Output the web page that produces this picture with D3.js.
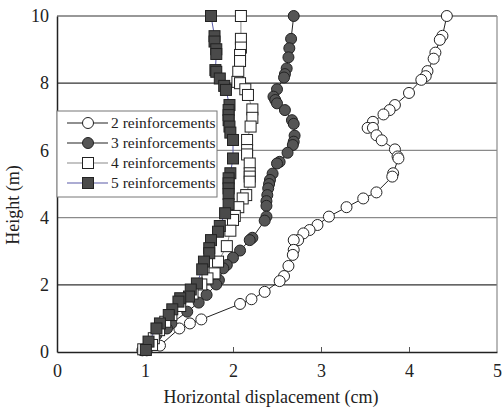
<!DOCTYPE html>
<html>
<head>
<meta charset="utf-8" />
<script src="https://d3js.org/d3.v7.min.js"></script>
<style>
  body { margin: 0; background: #fff; }
  text { font-family: "Liberation Serif", "Times New Roman", serif; fill: #222; }
</style>
</head>
<body>
<svg id="chart" width="504" height="410"></svg>
<script>
// --- data: [horizontal displacement (cm), height (m)] ---
var reinf2 = [
  [4.43, 10.0], [4.38, 9.41], [4.35, 9.29], [4.30, 8.91], [4.28, 8.73], [4.21, 8.36],
  [4.19, 8.21], [4.14, 8.10], [4.00, 7.71], [3.84, 7.35], [3.78, 7.20], [3.71, 7.07],
  [3.59, 6.85], [3.53, 6.67], [3.59, 6.67], [3.63, 6.45], [3.69, 6.30], [3.84, 6.03],
  [3.87, 5.82], [3.88, 5.76], [3.82, 5.32], [3.81, 5.22], [3.63, 4.75], [3.48, 4.57],
  [3.29, 4.31], [3.09, 4.03], [2.96, 3.78], [2.87, 3.63], [2.80, 3.53], [2.74, 3.33],
  [2.69, 3.33], [2.69, 3.04], [2.68, 2.89], [2.63, 2.56], [2.58, 2.26], [2.53, 2.11],
  [2.36, 1.79], [2.21, 1.57], [2.08, 1.43], [1.64, 0.97], [1.51, 0.85], [1.39, 0.70],
  [1.17, 0.19], [1.02, 0.05]
];
var reinf3 = [
  [2.69, 10.0], [2.66, 9.32], [2.64, 9.04], [2.63, 8.77], [2.61, 8.44], [2.59, 8.27],
  [2.58, 8.17], [2.50, 7.82], [2.46, 7.60], [2.48, 7.50], [2.50, 7.40], [2.59, 7.20],
  [2.67, 6.90], [2.69, 6.79], [2.70, 6.44], [2.69, 6.26], [2.68, 6.16], [2.62, 5.93],
  [2.53, 5.66], [2.50, 5.61], [2.45, 5.31], [2.42, 5.12], [2.41, 5.00], [2.40, 4.87],
  [2.39, 4.67], [2.38, 4.49], [2.38, 4.35], [2.38, 4.03], [2.36, 3.91], [2.22, 3.40],
  [2.19, 3.33], [2.08, 3.02], [2.00, 2.81], [1.93, 2.59], [1.89, 2.49], [1.84, 2.14],
  [1.81, 2.01], [1.70, 1.70], [1.61, 1.47], [1.48, 1.20], [1.30, 0.85], [1.25, 0.70],
  [1.13, 0.51], [1.05, 0.25], [0.97, 0.05]
];
var reinf4 = [
  [2.09, 10.0], [2.09, 9.32], [2.09, 9.06], [2.08, 8.84], [2.08, 8.66], [2.06, 8.34],
  [2.05, 8.04], [2.08, 8.00], [2.14, 7.82], [2.17, 7.65], [2.22, 7.22], [2.22, 6.97],
  [2.20, 6.71], [2.16, 6.31], [2.16, 6.01], [2.16, 5.88], [2.19, 5.61], [2.19, 5.32],
  [2.19, 5.22], [2.19, 5.07], [2.15, 4.67], [2.11, 4.57], [2.06, 4.31], [2.02, 4.05],
  [2.00, 3.93], [1.97, 3.61], [1.93, 3.15], [1.83, 2.69], [1.79, 2.34], [1.71, 2.19],
  [1.64, 2.01], [1.54, 1.74], [1.40, 1.37], [1.30, 1.10], [1.23, 0.90], [1.16, 0.65],
  [1.10, 0.41], [1.08, 0.21], [0.98, 0.08]
];
var reinf5 = [
  [1.75, 10.0], [1.79, 9.40], [1.79, 9.24], [1.81, 9.01], [1.81, 8.87], [1.80, 8.39],
  [1.81, 8.34], [1.85, 8.14], [1.90, 7.92], [1.92, 7.80], [1.96, 7.35], [1.95, 7.20],
  [1.95, 7.05], [1.95, 6.90], [1.96, 6.71], [1.97, 6.53], [2.00, 6.31], [2.00, 5.76],
  [1.97, 5.32], [1.95, 5.17], [1.95, 5.02], [1.95, 4.87], [1.95, 4.70], [1.95, 4.40],
  [1.91, 4.13], [1.85, 3.75], [1.83, 3.58], [1.75, 3.33], [1.73, 3.09], [1.73, 2.94],
  [1.67, 2.69], [1.65, 2.46], [1.59, 2.04], [1.52, 1.86], [1.50, 1.65], [1.40, 1.60],
  [1.38, 1.50], [1.31, 1.27], [1.27, 1.10], [1.17, 0.85], [1.13, 0.70], [1.04, 0.31],
  [1.01, 0.06]
];
var seriesNames = ["2 reinforcements", "3 reinforcements", "4 reinforcements", "5 reinforcements"];
var xTicks = [0, 1, 2, 3, 4, 5];
var yTicks = [0, 2, 4, 6, 8, 10];

var series = [
  { name: seriesNames[0], data: reinf2, shape: "circle", fill: "#fff", line: "#222" },
  { name: seriesNames[1], data: reinf3, shape: "circle", fill: "#555", line: "#222" },
  { name: seriesNames[2], data: reinf4, shape: "square", fill: "#fff", line: "#8a8a8a" },
  { name: seriesNames[3], data: reinf5, shape: "square", fill: "#4a4a4a", line: "#5a5aa8" }
];

var svg = d3.select("#chart");
var mLeft = 57, mRight = 497, mTop = 16, mBottom = 352;

var x = d3.scaleLinear().domain([0, 5]).range([mLeft, mRight]);
var y = d3.scaleLinear().domain([0, 10]).range([mBottom, mTop]);

// horizontal gridlines
svg.append("g").selectAll("line")
  .data(yTicks.filter(function(d) { return d > 0; }))
  .enter().append("line")
  .attr("x1", mLeft).attr("x2", mRight)
  .attr("y1", function(d) { return y(d); }).attr("y2", function(d) { return y(d); })
  .attr("stroke", function(d) { return (d === 4 || d === 6) ? "#8a8a8a" : "#333"; })
  .attr("stroke-width", 1.2);

// right border
svg.append("line").attr("x1", mRight).attr("x2", mRight).attr("y1", mTop).attr("y2", mBottom)
  .attr("stroke", "#8a8a8a").attr("stroke-width", 1.2);

// axes
var xAxis = svg.append("g").attr("transform", "translate(0," + mBottom + ")")
  .call(d3.axisBottom(x).tickValues(xTicks).tickFormat(d3.format("d"))
    .tickSizeInner(-5).tickSizeOuter(0).tickPadding(12));
var yAxis = svg.append("g").attr("transform", "translate(" + mLeft + ",0)")
  .call(d3.axisLeft(y).tickValues(yTicks).tickFormat(d3.format("d"))
    .tickSizeInner(0).tickSizeOuter(0).tickPadding(8));
[xAxis, yAxis].forEach(function(g) {
  g.attr("font-family", null).attr("font-size", null);
  g.select(".domain").attr("stroke", "#222").attr("stroke-width", 1.5);
  g.selectAll(".tick line").attr("stroke", "#555");
  g.selectAll(".tick text").style("font-size", "18px").attr("fill", "#222")
    .style("font-family", "'Liberation Serif', serif");
});
xAxis.selectAll(".tick line").filter(function(d) { return d === 0 || d === 5; }).remove();

// series lines + markers
var line = d3.line().x(function(d) { return x(d[0]); }).y(function(d) { return y(d[1]); });

function drawMarker(g, shape, fill) {
  if (shape === "circle") {
    g.append("circle").attr("r", 5.5).attr("fill", fill).attr("stroke", "#222").attr("stroke-width", 1);
  } else {
    g.append("rect").attr("x", -5.5).attr("y", -5.5).attr("width", 11).attr("height", 11)
      .attr("fill", fill).attr("stroke", "#222").attr("stroke-width", 1);
  }
}

series.forEach(function(s) {
  var g = svg.append("g");
  g.append("path").datum(s.data).attr("d", line)
    .attr("fill", "none").attr("stroke", s.line).attr("stroke-width", 1);
  g.selectAll("g.pt").data(s.data).enter().append("g")
    .attr("class", "pt")
    .attr("transform", function(d) { return "translate(" + x(d[0]) + "," + y(d[1]) + ")"; })
    .each(function() { drawMarker(d3.select(this), s.shape, s.fill); });
});

// legend
var legend = svg.append("g");
legend.append("rect").attr("x", mLeft).attr("y", 111).attr("width", 160).attr("height", 86)
  .attr("fill", "#fff").attr("stroke", "#777").attr("stroke-width", 1);
series.forEach(function(s, i) {
  var ly = 123 + i * 20;
  legend.append("line").attr("x1", 67).attr("x2", 108).attr("y1", ly).attr("y2", ly)
    .attr("stroke", s.line).attr("stroke-width", 1.2);
  var m = legend.append("g").attr("transform", "translate(88," + ly + ")");
  drawMarker(m, s.shape, s.fill);
  legend.append("text").attr("x", 111).attr("y", ly + 5)
    .style("font-size", "15.5px").text(s.name);
});

// axis titles
svg.append("text").attr("x", 271).attr("y", 403).attr("text-anchor", "middle")
  .style("font-size", "18px").text("Horizontal displacement (cm)");
svg.append("text").attr("transform", "translate(19,205) rotate(-90)").attr("text-anchor", "middle")
  .style("font-size", "18px").text("Height (m)");
</script>
</body>
</html>
